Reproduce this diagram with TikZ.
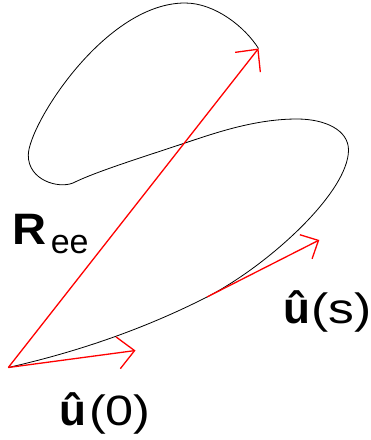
\documentclass[tikz,border=0pt]{standalone}
\usepackage{fontspec}
\setmainfont{Liberation Sans}
\usetikzlibrary{arrows.meta}
\begin{document}
\begin{tikzpicture}[x=1pt,y=-1pt,
  chain/.style={draw=black,line width=0.8pt},
  vec/.style={draw=red,line width=1.3pt,-{Straight Barb[length=16.5pt,width=32pt,line width=1.3pt]}},
  svec/.style={draw=red,line width=1.3pt,-{Straight Barb[length=14pt,width=27pt,line width=1.3pt]}},
  lbl/.style={inner sep=0pt,anchor=base west}]
\useasboundingbox (0,0) rectangle (371,440);
\coordinate (p0) at (8.3,367.5);
\coordinate (pe) at (258.5,48.5);
\coordinate (u0) at (135.5,350.5);
\coordinate (s0) at (207,297);
\coordinate (s1) at (319.3,240);
\draw[chain] (p0) .. controls (68,354) and (137,332.6) .. (s0)
  .. controls (269,265) and (348.5,192) .. (348.5,150)
  .. controls (348.5,130) and (325,119) .. (297,119)
  .. controls (255,119) and (215,133) .. (185,143)
  .. controls (140,158) and (95,172) .. (73,183)
  .. controls (58,189) and (28,180) .. (28.3,155)
  .. controls (28.5,125) and (105,3) .. (185,3)
  .. controls (215,3) and (245,27) .. (pe);
\draw[vec] (p0) -- (pe);
\draw[vec] (p0) -- (u0);
\draw[svec] (s0) -- (s1);
\node[lbl] (ree) at (12.6,244) {\scalebox{1.07}[1]{\bfseries\fontsize{44}{44}\selectfont R}\hspace{4pt}\raisebox{-9pt}{\fontsize{34}{34}\selectfont ee}};
\node[lbl] (lu0) at (59.5,425) {\fontsize{40}{40}\selectfont\scalebox{1.1}{\bfseries û}\hspace{2.6pt}\scalebox{1.26}[1.06]{(0)}};
\node[lbl] (lus) at (283.5,323) {\fontsize{40}{40}\selectfont\scalebox{1.1}{\bfseries û}\hspace{0.6pt}\scalebox{1.29}[1.06]{(s)}};
\end{tikzpicture}
\end{document}
